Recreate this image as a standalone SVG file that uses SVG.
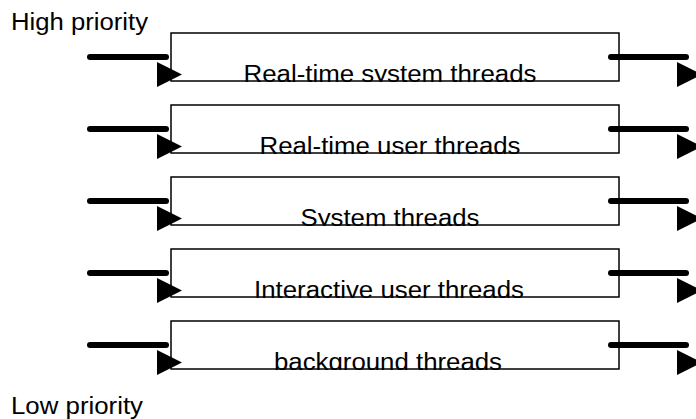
<svg xmlns="http://www.w3.org/2000/svg" width="696" height="419" viewBox="0 0 696 419">
  <style>
    .box { fill: none; stroke: #000; stroke-width: 1.5; }
    .lbl { font-family: "Liberation Sans", Arial, sans-serif; font-size: 23px; fill: #000; }
    .bar { stroke: #000; stroke-width: 6; stroke-linecap: round; fill: none; }
    .head { fill: #000; }
  </style>
  <defs>
    <!-- interior of one row box; rows reuse it through their transform -->
    <clipPath id="rowClip">
      <rect x="170" y="32" width="450" height="50"/>
    </clipPath>
    <!-- one in/out arrow pair -->
    <g id="arrows">
      <line class="bar" x1="90" y1="57" x2="166" y2="57"/>
      <polygon class="head" points="157,62 182,74.5 157,87"/>
      <line class="bar" x1="611" y1="57" x2="686" y2="57"/>
      <polygon class="head" points="677,62 702,74.5 677,87"/>
    </g>
  </defs>

  <text class="lbl" x="11" y="30" textLength="137" lengthAdjust="spacingAndGlyphs">High priority</text>
  <text class="lbl" x="11" y="414" textLength="132" lengthAdjust="spacingAndGlyphs">Low priority</text>

  <g id="connectors">
    <use href="#arrows"/>
    <use href="#arrows" transform="translate(0,72)"/>
    <use href="#arrows" transform="translate(0,144)"/>
    <use href="#arrows" transform="translate(0,216)"/>
    <use href="#arrows" transform="translate(0,288)"/>
  </g>

  <g id="rt-system" transform="translate(0,0)">
    <rect class="box" x="171" y="33" width="448" height="48"/>
    <g clip-path="url(#rowClip)">
      <text class="lbl" x="390" y="82" text-anchor="middle" textLength="293" lengthAdjust="spacingAndGlyphs">Real-time system threads</text>
    </g>
  </g>

  <g id="rt-user" transform="translate(0,72)">
    <rect class="box" x="171" y="33" width="448" height="48"/>
    <g clip-path="url(#rowClip)">
      <text class="lbl" x="390" y="82" text-anchor="middle" textLength="261" lengthAdjust="spacingAndGlyphs">Real-time user threads</text>
    </g>
  </g>

  <g id="system" transform="translate(0,144)">
    <rect class="box" x="171" y="33" width="448" height="48"/>
    <g clip-path="url(#rowClip)">
      <text class="lbl" x="390" y="82" text-anchor="middle" textLength="179" lengthAdjust="spacingAndGlyphs">System threads</text>
    </g>
  </g>

  <g id="interactive" transform="translate(0,216)">
    <rect class="box" x="171" y="33" width="448" height="48"/>
    <g clip-path="url(#rowClip)">
      <text class="lbl" x="389" y="82" text-anchor="middle" textLength="270" lengthAdjust="spacingAndGlyphs">Interactive user threads</text>
    </g>
  </g>

  <g id="background" transform="translate(0,288)">
    <rect class="box" x="171" y="33" width="448" height="48"/>
    <g clip-path="url(#rowClip)">
      <text class="lbl" x="388" y="82" text-anchor="middle" textLength="228" lengthAdjust="spacingAndGlyphs">background threads</text>
    </g>
  </g>
</svg>
